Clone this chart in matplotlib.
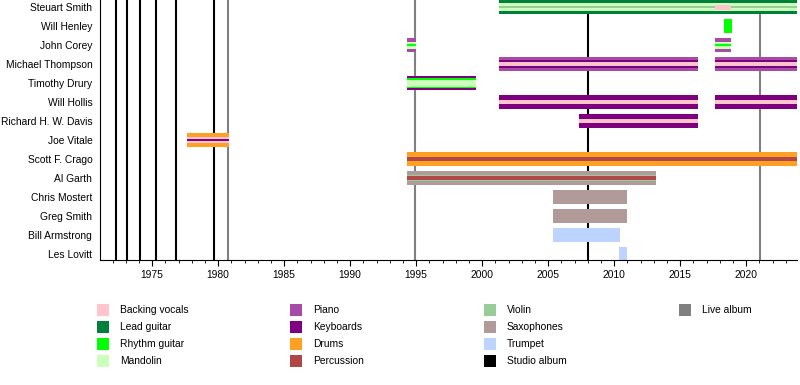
#!/usr/bin/env python3

import matplotlib
matplotlib.use("Agg")
import matplotlib.pyplot as plt
from matplotlib.patches import Rectangle

plt.rcParams["font.family"] = "Liberation Sans"
plt.rcParams["font.size"] = 7.4

END = 2023.85

# Members, top to bottom
names = [
    "Steuart Smith", "Will Henley", "John Corey", "Michael Thompson",
    "Timothy Drury", "Will Hollis", "Richard H. W. Davis", "Joe Vitale",
    "Scott F. Crago", "Al Garth", "Chris Mostert", "Greg Smith",
    "Bill Armstrong", "Les Lovitt",
]

# Active periods per member
periods = [
    [(2001.3, END)],
    [(2018.3, 2018.9)],
    [(1994.3, 1995.0), (2017.65, 2018.85)],
    [(2001.3, 2016.35), (2017.65, END)],
    [(1994.3, 1999.55)],
    [(2001.3, 2016.35), (2017.65, END)],
    [(2007.35, 2016.35)],
    [(1977.65, 1980.83)],
    [(1994.3, END)],
    [(1994.3, 2013.2)],
    [(2005.4, 2011.0)],
    [(2005.4, 2011.0)],
    [(2005.4, 2010.45)],
    [(2010.4, 2011.0)],
]

# Roles per member: main instrument first, then secondary ones
roles = [
    ["Lead guitar", "Mandolin", "Violin"],
    ["Rhythm guitar"],
    ["Piano", "Mandolin", "Rhythm guitar"],
    ["Piano", "Keyboards", "Backing vocals"],
    ["Keyboards", "Rhythm guitar", "Mandolin"],
    ["Keyboards", "Backing vocals"],
    ["Keyboards", "Backing vocals"],
    ["Drums", "Backing vocals", "Keyboards"],
    ["Drums", "Percussion"],
    ["Saxophones", "Violin", "Percussion"],
    ["Saxophones"],
    ["Saxophones"],
    ["Trumpet"],
    ["Trumpet"],
]

# Extra: Steuart Smith backing vocals
extra_bars = [("Steuart Smith", 2017.65, 2018.85, "Backing vocals")]

studio_albums = [1972.27, 1973.1, 1974.1, 1975.3, 1976.8, 1979.7, 2008.0]
live_albums = [1980.72, 1994.92, 2021.06]

legend_labels = [
    "Backing vocals", "Lead guitar", "Rhythm guitar", "Mandolin",
    "Piano", "Keyboards", "Drums", "Percussion",
    "Violin", "Saxophones", "Trumpet", "Studio album",
    "Live album",
]
legend_colors = [
    "#ffc4cc", "#00803a", "#00ff00", "#ccffbb",
    "#a64ca6", "#7f007f", "#ffa022", "#b04848",
    "#99cc99", "#b09a9a", "#bcd4ff", "#000000",
    "#808080",
]
colors = dict(zip(legend_labels, legend_colors))

# bar layer thickness in pixels (row pitch is 19 px)
ROW = 19
layer_px = [
    [14, 8.6, 2], [14], [14, 7, 2.5], [14, 8.6, 4.4], [14, 10, 7],
    [14, 4.2], [14, 4.2], [14, 6, 2], [14, 4.3], [14, 6.5, 4.3],
    [14], [14], [14], [14],
]

fig = plt.figure(figsize=(8, 3.85), dpi=100)
ax = fig.add_axes([100 / 800, 1 - 260 / 385, 697 / 800, 260 / 385])

for x in studio_albums:
    ax.axvline(x, color=colors["Studio album"], lw=1.5, zorder=1)
for x in live_albums:
    ax.axvline(x, color=colors["Live album"], lw=1.5, zorder=1)

for i, (plist, rlist) in enumerate(zip(periods, roles)):
    for start, end in plist:
        for k, role in enumerate(rlist):
            ax.barh(i, end - start, left=start, height=layer_px[i][k] / ROW,
                    color=colors[role], linewidth=0, zorder=2 + k)

for name, start, end, role in extra_bars:
    ax.barh(names.index(name), end - start, left=start, height=5 / ROW,
            color=colors[role], linewidth=0, zorder=5)

ax.set_xlim(1971.05, END)
ax.set_ylim(13 + 6 / 19, -7 / 19)
ax.set_yticks(range(len(names)))
ax.set_yticklabels(names)
ax.tick_params(axis="y", length=0, pad=5.5)
ax.set_xticks(range(1975, 2024, 5))
ax.set_xticks(range(1972, 2024), minor=True)
ax.tick_params(axis="x", which="major", length=4, pad=3)
ax.tick_params(axis="x", which="minor", length=2)
ax.spines["top"].set_visible(False)
ax.spines["right"].set_visible(False)

# Legend, four columns
col_x = [97, 290, 484, 679]
row_y = [310, 327, 344, 361]
for i, (label, color) in enumerate(zip(legend_labels, legend_colors)):
    cx = col_x[i // 4]
    cy = row_y[i % 4]
    fig.add_artist(Rectangle((cx / 800, 1 - (cy + 6) / 385), 12 / 800, 12 / 385,
                             transform=fig.transFigure, color=color, lw=0))
    fig.text((cx + 23) / 800, 1 - cy / 385, label, va="center", ha="left")

fig.savefig("out.png", dpi=100)
